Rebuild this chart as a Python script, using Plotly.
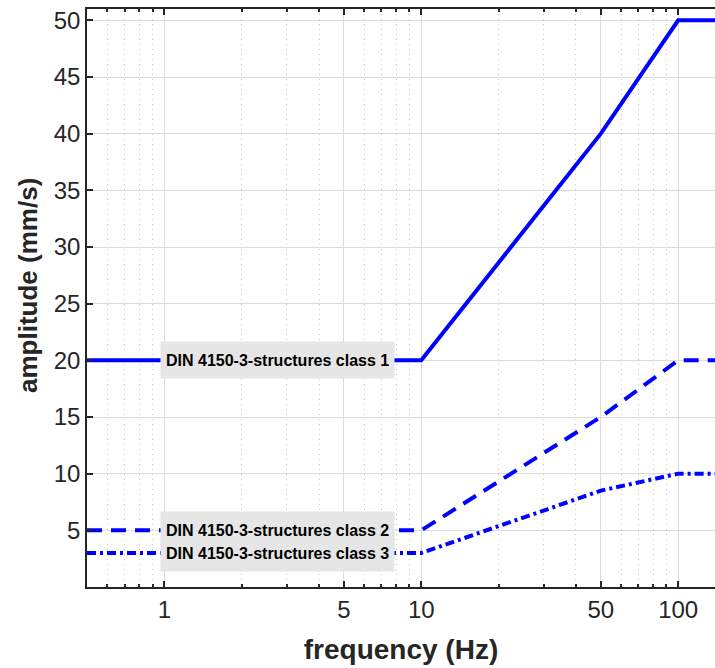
import plotly.graph_objects as go
import math

# data
freq_pts = [0.5, 10, 50, 100, 140]
class1 = [20, 20, 40, 50, 50]
class2 = [5, 5, 15, 20, 20]
class3 = [3, 3, 8.5, 10, 10]
labels = ["DIN 4150-3-structures class 1",
          "DIN 4150-3-structures class 2",
          "DIN 4150-3-structures class 3"]
label_y = [20, 5, 3]
x_ticks = [1, 5, 10, 50, 100]
x_minor = [0.6, 0.7, 0.8, 0.9, 2, 3, 4, 6, 7, 8, 9, 20, 30, 40, 60, 70, 80, 90]
y_ticks = [5, 10, 15, 20, 25, 30, 35, 40, 45, 50]

BLUE = "#0000FF"
fig = go.Figure()
fig.add_trace(go.Scatter(x=freq_pts, y=class1, mode="lines",
                         line=dict(color=BLUE, width=4), showlegend=False))
fig.add_trace(go.Scatter(x=freq_pts, y=class2, mode="lines",
                         line=dict(color=BLUE, width=4, dash="15px,9px"), showlegend=False))
fig.add_trace(go.Scatter(x=freq_pts, y=class3, mode="lines",
                         line=dict(color=BLUE, width=4, dash="9px,4px,3px,4px"), showlegend=False))

# background boxes first, then text on top (so overlapping boxes don't hide text)
for layer in ("box", "text"):
    for lab, yv in zip(labels, label_y):
        fig.add_annotation(x=0, y=yv, xref="x", yref="y", text="<b>" + lab + "</b>",
                           showarrow=False, xanchor="left", yanchor="middle", xshift=-4,
                           bgcolor="#e6e6e6" if layer == "box" else "rgba(0,0,0,0)",
                           borderpad=5, height=26,
                           font=dict(family="Liberation Sans, Arial", size=16,
                                     color="rgba(0,0,0,0)" if layer == "box" else "#000000"))

fig.add_annotation(x=-0.094, y=0.5225, xref="paper", yref="paper",
                   text="<b>amplitude (mm/s)</b>", textangle=-90, showarrow=False,
                   xanchor="center", yanchor="middle",
                   font=dict(family="Liberation Sans, Arial", size=26, color="#262626"))

tickfont = dict(family="Liberation Sans, Arial", size=24, color="#262626")
fig.update_xaxes(type="log", range=[math.log10(0.5), 2.1434],
                 tickmode="array", tickvals=x_ticks, ticktext=[str(v) for v in x_ticks],
                 ticks="inside", ticklen=6, tickwidth=1.5, tickcolor="#262626",
                 showline=True, linecolor="#262626", linewidth=1.5, mirror="ticks",
                 showgrid=True, gridcolor="#dcdcdc", gridwidth=1,
                 minor=dict(tickmode="array", tickvals=x_minor, ticks="inside", ticklen=3,
                            tickcolor="#262626", showgrid=True, gridcolor="#c8c8c8",
                            griddash="1px,4px", gridwidth=1),
                 tickfont=tickfont, zeroline=False,
                 title=dict(text="<b>frequency (Hz)</b>", standoff=18,
                            font=dict(family="Liberation Sans, Arial", size=28, color="#262626")))
fig.update_yaxes(range=[0, 51], tickmode="array", tickvals=y_ticks,
                 ticks="inside", ticklen=6, tickwidth=1.5, tickcolor="#262626",
                 showline=True, linecolor="#262626", linewidth=1.5, mirror=False,
                 showgrid=True, gridcolor="#dcdcdc", gridwidth=1, zeroline=False,
                 tickfont=tickfont)
fig.update_layout(width=715, height=668, margin=dict(l=87, r=0, t=9, b=81),
                  plot_bgcolor="white", paper_bgcolor="white")
fig.write_html("out.html")
